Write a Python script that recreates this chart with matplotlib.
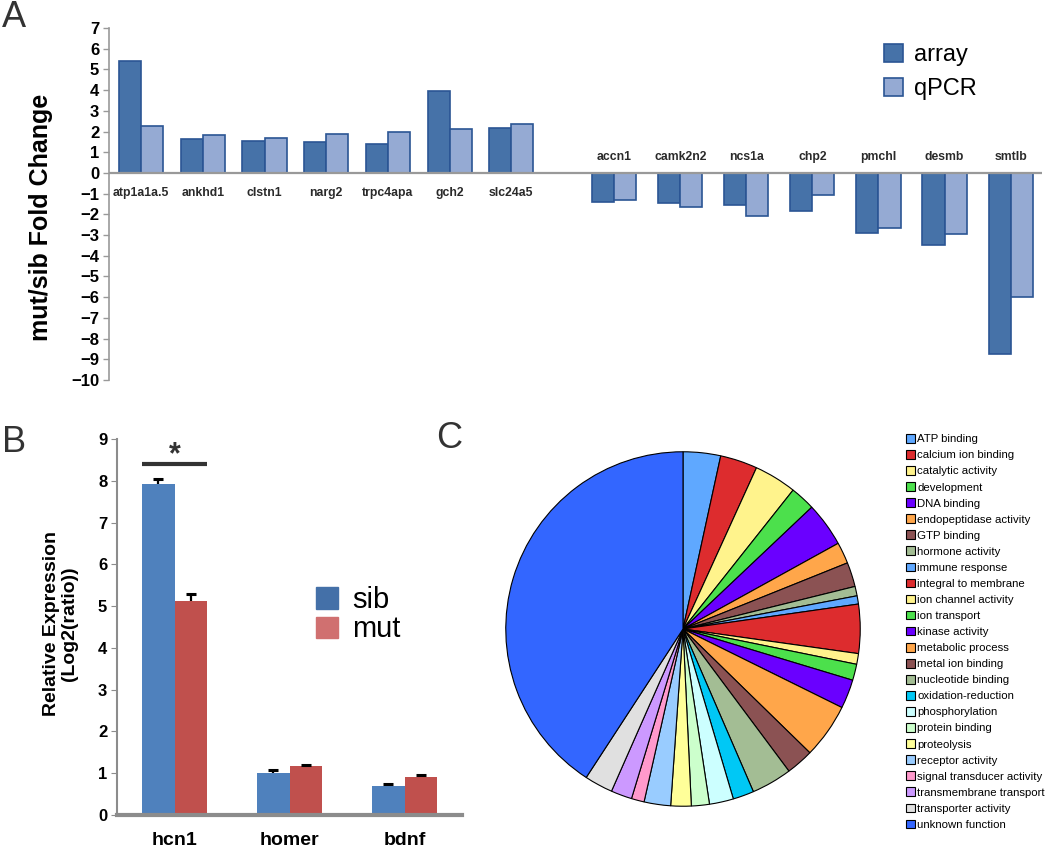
import matplotlib
matplotlib.use("Agg")
import matplotlib.pyplot as plt
import numpy as np
from matplotlib.patches import Patch

plt.rcParams["font.family"] = ["Liberation Sans", "DejaVu Sans"]

# ---- Panel A: array vs qPCR fold change ----
genes = ["atp1a1a.5", "ankhd1", "clstn1", "narg2", "trpc4apa", "gch2", "slc24a5",
         "accn1", "camk2n2", "ncs1a", "chp2", "pmchl", "desmb", "smtlb"]
array_fc = [5.42, 1.63, 1.52, 1.49, 1.38, 3.96, 2.18,
            -1.40, -1.45, -1.55, -1.82, -2.88, -3.47, -8.75]
qpcr_fc = [2.26, 1.83, 1.70, 1.86, 1.97, 2.14, 2.38,
           -1.32, -1.66, -2.06, -1.08, -2.65, -2.94, -6.0]
a_ticks = list(range(-10, 8))

# ---- Panel B: relative expression ----
b_genes = ["hcn1", "homer", "bdnf"]
sib_expr = [7.92, 1.01, 0.70]
sib_err = [0.12, 0.07, 0.04]
mut_expr = [5.13, 1.17, 0.92]
mut_err = [0.16, 0.03, 0.04]
b_ticks = list(range(0, 10))

# ---- Panel C: GO categories (pie, degrees of arc) ----
go_terms = ["ATP binding", "calcium ion binding", "catalytic activity", "development",
            "DNA binding", "endopeptidase activity", "GTP binding", "hormone activity",
            "immune response", "integral to membrane", "ion channel activity",
            "ion transport", "kinase activity", "metabolic process", "metal ion binding",
            "nucleotide binding", "oxidation-reduction", "phosphorylation",
            "protein binding", "proteolysis", "receptor activity",
            "signal transducer activity", "transmembrane transport",
            "transporter activity", "unknown function"]
go_share = [12.3, 12.2, 13.9, 8.2, 14.5, 7.0, 8.0, 3.1, 2.7, 16.1, 3.5, 5.3, 9.5,
            18.0, 9.0, 13.3, 6.9, 7.9, 5.9, 6.7, 8.7, 4.2, 6.9, 9.3, 146.9]
go_colors = ["#5fa8ff", "#dd2c2e", "#fff38c", "#4ce04c", "#6a00ff", "#ffa64a",
             "#8b5253", "#a3bd94", "#5fa8ff", "#dd2c2e", "#fff38c", "#4ce04c",
             "#6a00ff", "#ffa64a", "#8b5253", "#a3bd94", "#00c8f5", "#ccffff",
             "#ccffcc", "#ffff99", "#99ccff", "#ff99cc", "#cc99ff", "#e0e0e0",
             "#3366ff"]

W, H = 1050, 848
fig = plt.figure(figsize=(W / 100, H / 100), dpi=100)


def frac_box(left, top, right, bottom):
    """pixel box -> figure fraction rect"""
    return [left / W, 1 - bottom / H, (right - left) / W, (bottom - top) / H]


# ================= Panel A =================
ax_a = fig.add_axes(frac_box(109, 28, 1042, 380))
n = len(genes)
xpos = np.r_[np.arange(7), 7.67 + 1.07 * np.arange(n - 7)]
bw = 0.357
ax_a.bar(xpos - bw / 2, array_fc, bw, color="#4672a8", edgecolor="#2b5594",
         linewidth=1.2, label="array", zorder=2)
ax_a.bar(xpos + bw / 2, qpcr_fc, bw, color="#95aad3", edgecolor="#2b5594",
         linewidth=1.2, label="qPCR", zorder=2)
ax_a.axhline(0, color="#999999", lw=1.6, zorder=3)
for x, g, v in zip(xpos, genes, array_fc):
    ax_a.text(x, -0.98 if v > 0 else 0.77, g, ha="center", va="center",
              fontsize=8.8, fontweight="bold", color="#2a2a2a")
ax_a.set_xlim(-0.52, 14.6)
ax_a.set_ylim(-10, 7)
ax_a.set_yticks(a_ticks)
ax_a.set_xticks([])
for s in ["top", "right", "bottom"]:
    ax_a.spines[s].set_visible(False)
ax_a.spines["left"].set_color("#999999")
ax_a.spines["left"].set_linewidth(1.2)
ax_a.tick_params(axis="y", length=4, width=1, color="#999999", pad=3,
                 labelsize=12)
for t in ax_a.get_yticklabels():
    t.set_fontweight("bold")
ax_a.set_ylabel("mut/sib Fold Change", fontsize=18, fontweight="bold")
ax_a.yaxis.set_label_coords(-0.060, 0.463)
ax_a.legend(loc="upper left", bbox_to_anchor=(884 / W, 1 - 44 / H),
            bbox_transform=fig.transFigure, frameon=False, fontsize=17,
            handlelength=0.8, handleheight=0.8, handletextpad=0.45,
            labelspacing=0.5, borderpad=0, borderaxespad=0)

# ================= Panel B =================
ax_b = fig.add_axes(frac_box(117, 439, 462, 815))
xb = np.arange(len(b_genes))
bwb = 0.286
ax_b.bar(xb - bwb / 2, sib_expr, bwb, color="#4f81bd", zorder=2)
ax_b.bar(xb + bwb / 2, mut_expr, bwb, color="#c0504d", zorder=2)
# one-sided error bars (T shape)
for xs, ys, es in [(xb - bwb / 2, sib_expr, sib_err), (xb + bwb / 2, mut_expr, mut_err)]:
    tops = np.array(ys) + np.array(es)
    ax_b.vlines(xs, ys, tops, color="black", lw=1.6, zorder=3)
    ax_b.plot(xs, tops, ls="none", marker="_", ms=7, mew=2.2, color="black", zorder=3)
ax_b.plot([-bwb, bwb], [8.39, 8.39], color="#333333", lw=3, solid_capstyle="butt")
ax_b.text(0, 8.62, "*", ha="center", va="center", fontsize=22,
          fontweight="bold", color="#333333")
ax_b.set_xlim(-0.5, 2.5)
ax_b.set_ylim(0, 9)
ax_b.set_yticks(b_ticks)
ax_b.set_xticks(xb)
ax_b.set_xticklabels(b_genes, fontsize=14, fontweight="bold")
for t in ax_b.get_yticklabels():
    t.set_fontweight("bold")
ax_b.tick_params(axis="y", length=4, color="#8c8c8c", labelsize=12, pad=3)
ax_b.tick_params(axis="x", length=0, pad=12)
for s in ["top", "right"]:
    ax_b.spines[s].set_visible(False)
ax_b.spines["bottom"].set_color("#8c8c8c")
ax_b.spines["bottom"].set_linewidth(3)
ax_b.spines["left"].set_color("#8c8c8c")
ax_b.spines["left"].set_linewidth(1.5)
ax_b.set_ylabel("Relative Expression\n(Log2(ratio))", fontsize=14,
                fontweight="bold", linespacing=1.05)
ax_b.yaxis.set_label_coords(-0.113, 0.51)
b_handles = [Patch(color="#4470a8", label="sib"), Patch(color="#d07070", label="mut")]
ax_b.legend(handles=b_handles, loc="upper left",
            bbox_to_anchor=(316 / W, 1 - 586 / H), bbox_transform=fig.transFigure,
            frameon=False, fontsize=21, handlelength=0.75, handleheight=0.75,
            handletextpad=0.5, labelspacing=0.05, borderpad=0, borderaxespad=0)

# ================= Panel C =================
ax_c = fig.add_axes(frac_box(504, 450, 862, 808))
wedges, _ = ax_c.pie(go_share, colors=go_colors, startangle=90, counterclock=False,
                     radius=1, wedgeprops=dict(edgecolor="black", linewidth=0.8))
ax_c.set_xlim(-1.01, 1.01)
ax_c.set_ylim(-1.01, 1.01)
ax_c.set_aspect("equal")
fig.legend(wedges, go_terms, loc="upper left",
           bbox_to_anchor=(906 / W, 1 - 434 / H), frameon=False, fontsize=8.2,
           handlelength=0.8, handleheight=0.8, handletextpad=0.2,
           labelspacing=0.505, borderpad=0, borderaxespad=0)

# panel letters
for txt, px, py in [("A", 2, 0), ("B", 2, 425), ("C", 436, 421)]:
    fig.text(px / W, 1 - py / H, txt, fontsize=26, color="#333333",
             ha="left", va="top")

fig.savefig("out.png", dpi=100)
